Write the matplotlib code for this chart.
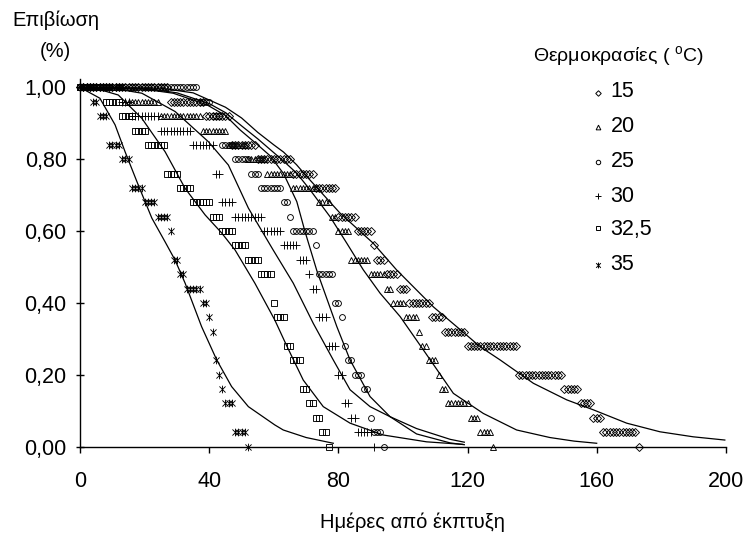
import numpy as np
import matplotlib
matplotlib.use("Agg")
import matplotlib.pyplot as plt
from matplotlib.path import Path
from matplotlib.lines import Line2D

plt.rcParams['font.family'] = ['Liberation Sans', 'DejaVu Sans']
plt.rcParams['mathtext.fontset'] = 'custom'
plt.rcParams['mathtext.rm'] = 'Liberation Sans'

FS = 14.5     # Greek titles
FSN = 15.5    # numbers (tick labels, legend entries)

# ---------------- data ----------------
temps = ['15', '20', '25', '30', '32,5', '35']

# survival level and first / last day on which that level was observed
lev_15 = [1.00, 0.96, 0.92, 0.84, 0.80, 0.76, 0.72, 0.64, 0.60, 0.56, 0.52, 0.48,
          0.44, 0.40, 0.36, 0.32, 0.28, 0.20, 0.16, 0.12, 0.08, 0.04, 0.00]
d0_15 = [0, 28, 39, 47, 55, 66, 73, 80, 86, 91, 92, 95, 99, 102, 109, 113, 120, 136,
         150, 155, 159, 162, 173]
d1_15 = [27, 38, 46, 54, 65, 72, 79, 85, 90, 91, 94, 98, 101, 108, 112, 119, 135, 149,
         154, 158, 161, 172, 173]

lev_20 = [1.00, 0.96, 0.92, 0.88, 0.84, 0.80, 0.76, 0.72, 0.68, 0.64, 0.60, 0.52, 0.48,
          0.44, 0.40, 0.36, 0.32, 0.28, 0.24, 0.20, 0.16, 0.12, 0.08, 0.04, 0.00]
d0_20 = [0, 14, 25, 38, 46, 52, 58, 66, 74, 78, 80, 84, 90, 95, 97, 101, 105, 106, 108,
         111, 112, 114, 121, 124, 128]
d1_20 = [13, 24, 37, 45, 51, 57, 65, 73, 77, 79, 83, 89, 94, 96, 100, 104, 105, 107, 110,
         111, 113, 120, 123, 127, 128]

lev_25 = [1.00, 0.96, 0.92, 0.84, 0.80, 0.76, 0.72, 0.68, 0.64, 0.60, 0.56, 0.48, 0.40,
          0.36, 0.28, 0.24, 0.20, 0.16, 0.08, 0.04, 0.00]
d0_25 = [0, 37, 41, 44, 48, 53, 56, 63, 65, 66, 73, 74, 79, 81, 82, 83, 85, 88, 90, 91, 94]
d1_25 = [36, 40, 43, 47, 52, 55, 62, 64, 65, 72, 73, 78, 80, 81, 82, 84, 87, 89, 90, 93, 94]

lev_30 = [1.00, 0.96, 0.92, 0.88, 0.84, 0.76, 0.68, 0.64, 0.60, 0.56, 0.52, 0.48, 0.44,
          0.36, 0.28, 0.20, 0.12, 0.08, 0.04, 0.00]
d0_30 = [0, 13, 16, 25, 35, 42, 44, 48, 57, 63, 68, 71, 72, 74, 77, 80, 82, 84, 86, 91]
d1_30 = [12, 15, 24, 34, 41, 43, 47, 56, 62, 67, 70, 71, 73, 76, 79, 81, 83, 85, 90, 91]

lev_325 = [1.00, 0.96, 0.92, 0.88, 0.84, 0.76, 0.72, 0.68, 0.64, 0.60, 0.56, 0.52, 0.48,
           0.40, 0.36, 0.28, 0.24, 0.16, 0.12, 0.08, 0.04, 0.00]
d0_325 = [0, 8, 13, 17, 21, 27, 31, 35, 41, 44, 48, 52, 56, 60, 61, 64, 66, 69, 71, 73, 75, 77]
d1_325 = [7, 12, 16, 20, 26, 30, 34, 40, 43, 47, 51, 55, 59, 60, 63, 65, 68, 70, 72, 74, 76, 77]

lev_35 = [1.00, 0.96, 0.92, 0.84, 0.80, 0.72, 0.68, 0.64, 0.60, 0.52, 0.48, 0.44, 0.40,
          0.36, 0.32, 0.24, 0.20, 0.16, 0.12, 0.04, 0.00]
d0_35 = [0, 4, 6, 9, 13, 16, 20, 24, 28, 29, 31, 33, 38, 40, 41, 42, 43, 44, 45, 48, 52]
d1_35 = [3, 5, 8, 12, 15, 19, 23, 27, 28, 30, 32, 37, 39, 40, 41, 42, 43, 44, 47, 51, 52]

# fitted curves, points
c15_x = [0, 25, 35, 45, 50, 55, 60, 63, 67, 70.2, 80.5, 90.8, 98.0, 103.2, 109.4, 116.6,
         123.9, 130.1, 140.4, 150.7, 159.0, 169.3, 179.6, 189.9, 199.7]
c15_y = [1.0, 0.998, 0.985, 0.945, 0.915, 0.875, 0.84, 0.82, 0.785, 0.752, 0.650, 0.566,
         0.492, 0.445, 0.389, 0.334, 0.278, 0.241, 0.176, 0.130, 0.102, 0.065, 0.041,
         0.027, 0.018]
c20_x = [0, 20, 30, 40, 45, 50, 55, 59, 63, 67.1, 71.2, 77.4, 82.6, 87.7, 92.9, 99.1,
         107, 115.6, 124.9, 135.2, 145.5, 153, 160]
c20_y = [1.0, 0.998, 0.985, 0.955, 0.93, 0.893, 0.857, 0.826, 0.795, 0.761, 0.715, 0.640,
         0.566, 0.492, 0.427, 0.362, 0.26, 0.148, 0.092, 0.046, 0.025, 0.015, 0.009]
c25_x = [0, 20, 28.8, 39.2, 45, 49.5, 55, 58.8, 63, 67.1, 69.6, 73.3, 79.5, 83.6, 89.8,
         96.0, 104.2, 114.6, 119]
c25_y = [1.0, 0.995, 0.984, 0.952, 0.922, 0.882, 0.84, 0.81, 0.76, 0.682, 0.6, 0.49,
         0.334, 0.241, 0.139, 0.083, 0.035, 0.010, 0.005]
c30_x = [0, 10, 19.1, 29.4, 39.7, 45.9, 52.1, 59.8, 66.0, 72.2, 78.4, 83.6, 89.8, 96.0,
         104.2, 114.6, 119]
c30_y = [1.0, 0.998, 0.984, 0.933, 0.849, 0.784, 0.664, 0.547, 0.455, 0.343, 0.241,
         0.158, 0.111, 0.083, 0.050, 0.020, 0.012]
c325_x = [0, 5, 11.8, 19.1, 26.3, 32.5, 38.7, 43.8, 48.0, 54.1, 60.3, 64.0, 69.1, 75.3,
          83.6, 93.9, 107.3, 118.5]
c325_y = [1.0, 0.997, 0.979, 0.914, 0.821, 0.719, 0.645, 0.595, 0.547, 0.455, 0.352,
          0.280, 0.185, 0.111, 0.065, 0.032, 0.013, 0.006]
c35_x = [0, 6.1, 10.8, 13.9, 18.0, 22.2, 26.3, 29.4, 32.5, 37.6, 42.3, 46.9, 52.1, 60.3,
         62.9, 70.0, 78.4]
c35_y = [1.0, 0.970, 0.896, 0.821, 0.728, 0.636, 0.570, 0.519, 0.455, 0.334, 0.241,
         0.167, 0.111, 0.060, 0.046, 0.025, 0.009]

yticks = [0.0, 0.2, 0.4, 0.6, 0.8, 1.0]
ytick_labels = ['0,00', '0,20', '0,40', '0,60', '0,80', '1,00']
xticks = [0, 40, 80, 120, 160, 200]

# ---------------- styling ----------------
ast = Path([(0, -1), (0, 1), (-0.8, -0.8), (0.8, 0.8), (-0.8, 0.8), (0.8, -0.8)],
           [Path.MOVETO, Path.LINETO, Path.MOVETO, Path.LINETO, Path.MOVETO, Path.LINETO])
styles = [dict(marker='D', ms=3.6), dict(marker='^', ms=4.6), dict(marker='o', ms=4.2),
          dict(marker='+', ms=5.5), dict(marker='s', ms=3.8), dict(marker=ast, ms=5.5)]


def expand(lev, d0, d1):
    xs, ys = [], []
    for v, a, b in zip(lev, d0, d1):
        for d in range(a, b + 1):
            xs.append(d)
            ys.append(v)
    return xs, ys


series = [(lev_15, d0_15, d1_15), (lev_20, d0_20, d1_20), (lev_25, d0_25, d1_25),
          (lev_30, d0_30, d1_30), (lev_325, d0_325, d1_325), (lev_35, d0_35, d1_35)]
curves = [(c15_x, c15_y), (c20_x, c20_y), (c25_x, c25_y), (c30_x, c30_y),
          (c325_x, c325_y), (c35_x, c35_y)]

W, H = 746, 534
fig = plt.figure(figsize=(W / 100, H / 100), dpi=100)
x0, x1 = 80.2, 725.8
y0, ytop = 446.5, 78.5
ax = fig.add_axes([x0 / W, (H - y0) / H, (x1 - x0) / W, (y0 - ytop) / H])
ax.set_xlim(0, 200)
ax.set_ylim(0, 1.025)

for (cx, cy) in curves:
    ax.plot(cx, cy, color='black', lw=0.9, zorder=2)

for (lev, a, b), st in zip(series, styles):
    xs, ys = expand(lev, a, b)
    ax.plot(xs, ys, linestyle='none', color='black', mfc='none', mec='black',
            mew=0.65, clip_on=False, zorder=3, **st)

for s in ['top', 'right']:
    ax.spines[s].set_visible(False)
for s in ['left', 'bottom']:
    ax.spines[s].set_linewidth(1.0)

ax.set_yticks(yticks)
ax.set_yticklabels(ytick_labels)
ax.set_xticks(xticks)
ax.tick_params(axis='y', direction='inout', length=5.5, width=1, pad=7, labelsize=FSN)
ax.tick_params(axis='x', direction='out', length=4.5, width=1, pad=13, labelsize=FSN)

# axis titles
fig.text(56 / W, 1 - 26 / H, 'Επιβίωση', ha='center', va='baseline', fontsize=FS)
fig.text(55 / W, 1 - 57 / H, '(%)', ha='center', va='baseline', fontsize=FS)
fig.text(412 / W, 1 - 528 / H, 'Ημέρες από έκπτυξη', ha='center', va='baseline',
         fontsize=FS)

# legend
fig.text(533 / W, 1 - 62 / H, 'Θερμοκρασίες ( $^{\\mathrm{o}}$C)', ha='left',
         va='baseline', fontsize=14)
leg_marker_y = [92.7, 127.3, 161.7, 195.7, 228.3, 265.0]
leg_text_y = [97.3, 132.2, 166.7, 201.5, 235.5, 270.0]
leg_styles = [dict(marker='D', ms=2.8), dict(marker='^', ms=3.4), dict(marker='o', ms=3.2),
              dict(marker='+', ms=4.2), dict(marker='s', ms=3.0), dict(marker=ast, ms=4.2)]
for lab, st, ym, yt in zip(temps, leg_styles, leg_marker_y, leg_text_y):
    fig.add_artist(Line2D([597.7 / W], [1 - ym / H], transform=fig.transFigure,
                          linestyle='none', color='black', mfc='none', mec='black',
                          mew=0.7, **st))
    fig.text(610.7 / W, 1 - yt / H, lab, ha='left', va='baseline', fontsize=FSN)

fig.savefig('out.png', dpi=100)
